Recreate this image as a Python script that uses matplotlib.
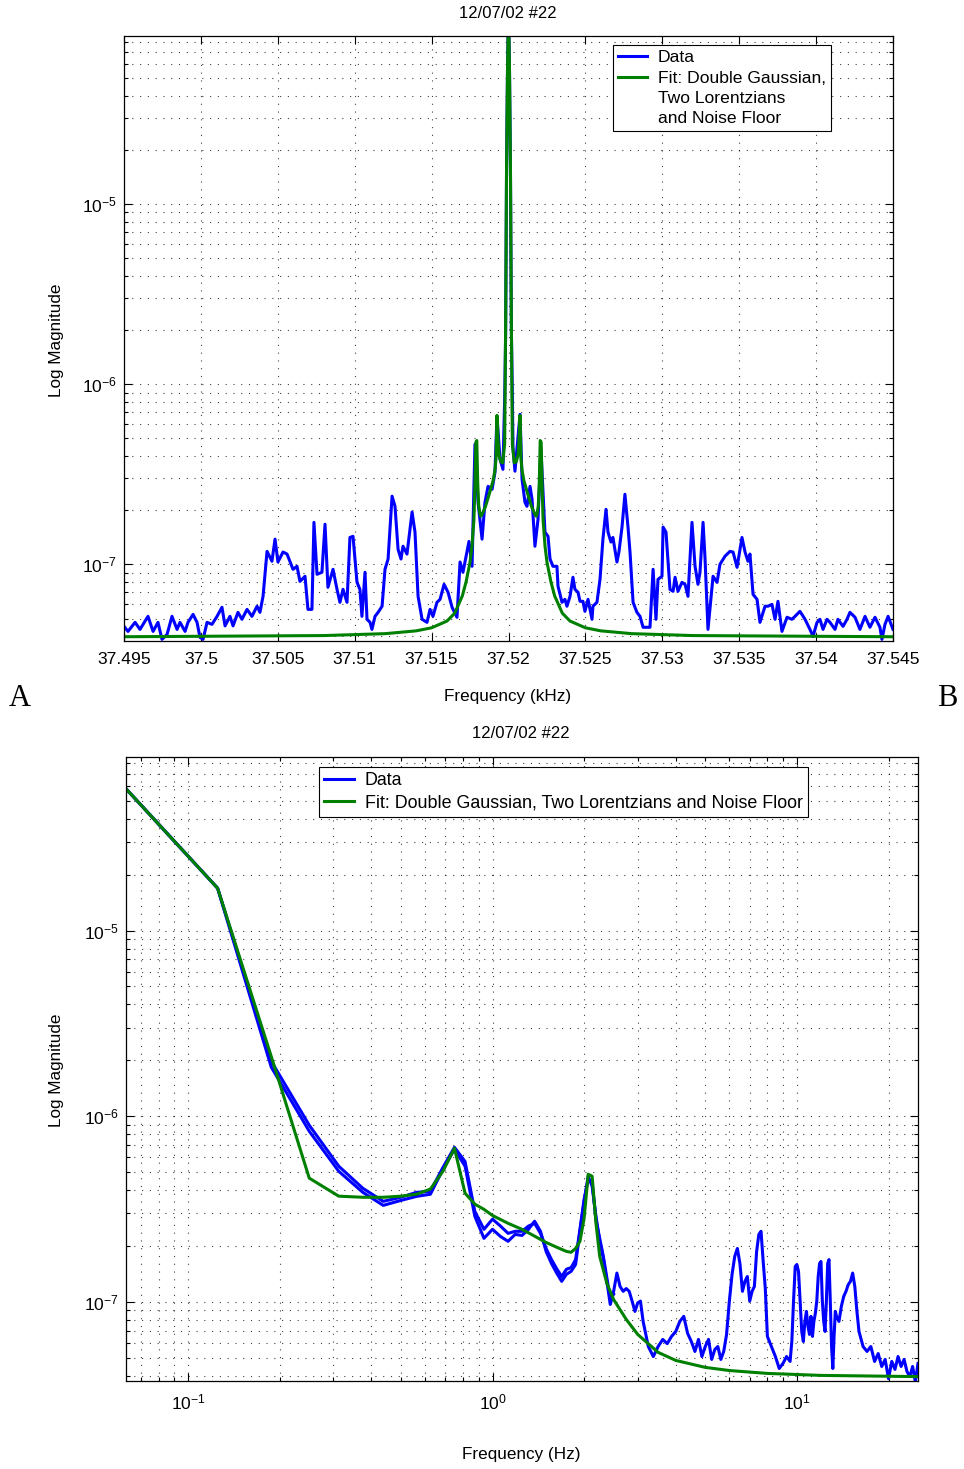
import matplotlib
matplotlib.use('Agg')
import matplotlib.pyplot as plt
import matplotlib.ticker as mticker
from matplotlib.lines import Line2D

plt.rcParams['font.family'] = ['Liberation Sans', 'DejaVu Sans']
plt.rcParams['mathtext.fontset'] = 'custom'
plt.rcParams['mathtext.rm'] = 'Liberation Sans'

title = '12/07/02 #22'
fit_label_top = 'Fit: Double Gaussian,\nTwo Lorentzians\nand Noise Floor'
fit_label_bot = 'Fit: Double Gaussian, Two Lorentzians and Noise Floor'

# ---- top panel: spectrum around the carrier (kHz) ----
top_f = [37.49500, 37.49526, 37.49572, 37.49604, 37.49656, 37.49689, 37.49721, 37.49747,
         37.49780, 37.49812, 37.49845, 37.49864, 37.49897, 37.49916, 37.49949, 37.49975,
         37.49994, 37.50014, 37.50040, 37.50072, 37.50105, 37.50137, 37.50157, 37.50189,
         37.50209, 37.50241, 37.50267, 37.50300, 37.50332, 37.50365, 37.50384, 37.50404,
         37.50430, 37.50462, 37.50482, 37.50501, 37.50534, 37.50560, 37.50599, 37.50625,
         37.50644, 37.50677, 37.50696, 37.50722, 37.50735, 37.50755, 37.50787, 37.50807,
         37.50826, 37.50859, 37.50885, 37.50904, 37.50924, 37.50950, 37.50969, 37.50989,
         37.51015, 37.51034, 37.51047, 37.51067, 37.51080, 37.51100, 37.51112, 37.51132,
         37.51152, 37.51178, 37.51197, 37.51217, 37.51243, 37.51262, 37.51282, 37.51301,
         37.51314, 37.51340, 37.51373, 37.51392, 37.51412, 37.51438, 37.51470, 37.51490,
         37.51509, 37.51535, 37.51555, 37.51581, 37.51607, 37.51633, 37.51665, 37.51685,
         37.51704, 37.51730, 37.51743, 37.51763, 37.51782, 37.51802, 37.51828, 37.51847,
         37.51867, 37.51893, 37.51912, 37.51925, 37.51945, 37.51964, 37.51975, 37.5198125,
         37.519875, 37.5199375, 37.52000, 37.5200625, 37.520125, 37.5201875, 37.52025, 37.52029,
         37.52042, 37.52075, 37.52088, 37.52107, 37.52120, 37.52140, 37.52153, 37.52172,
         37.52192, 37.52211, 37.52237, 37.52257, 37.52270, 37.52289, 37.52315, 37.52322,
         37.52348, 37.52367, 37.52380, 37.52400, 37.52419, 37.52432, 37.52452, 37.52465,
         37.52484, 37.52497, 37.52517, 37.52543, 37.52549, 37.52575, 37.52595, 37.52614,
         37.52634, 37.52647, 37.52666, 37.52679, 37.52705, 37.52718, 37.52738, 37.52757,
         37.52777, 37.52790, 37.52810, 37.52835, 37.52855, 37.52875, 37.52900, 37.52920,
         37.52940, 37.52959, 37.52972, 37.52998, 37.53005, 37.53024, 37.53050, 37.53070,
         37.53083, 37.53102, 37.53128, 37.53148, 37.53167, 37.53193, 37.53213, 37.53232,
         37.53245, 37.53265, 37.53278, 37.53297, 37.53330, 37.53356, 37.53375, 37.53408,
         37.53440, 37.53460, 37.53486, 37.53518, 37.53538, 37.53557, 37.53570, 37.53590,
         37.53616, 37.53635, 37.53668, 37.53687, 37.53713, 37.53733, 37.53752, 37.53778,
         37.53811, 37.53843, 37.53863, 37.53895, 37.53928, 37.53960, 37.53980, 37.54006,
         37.54025, 37.54045, 37.54071, 37.54090, 37.54123, 37.54142, 37.54175, 37.54201,
         37.54220, 37.54253, 37.54285, 37.54318, 37.54350, 37.54383, 37.54415, 37.54428,
         37.54448, 37.54468, 37.54500]
top_data = [4.52e-8, 4.24e-8, 4.76e-8, 4.35e-8, 5.14e-8, 4.24e-8, 4.76e-8, 3.83e-8,
            4.08e-8, 5.14e-8, 4.35e-8, 4.76e-8, 4.24e-8, 4.76e-8, 5.27e-8, 4.76e-8,
            3.93e-8, 3.83e-8, 4.76e-8, 4.64e-8, 5.14e-8, 5.77e-8, 4.55e-8, 5.14e-8,
            4.55e-8, 5.41e-8, 4.95e-8, 5.62e-8, 5.14e-8, 5.85e-8, 5.41e-8, 6.64e-8,
            1.18e-7, 1.04e-7, 1.38e-7, 1.03e-7, 1.17e-7, 1.14e-7, 9.38e-8, 9.75e-8,
            8.04e-8, 8.58e-8, 5.62e-8, 5.62e-8, 1.71e-7, 8.80e-8, 9.03e-8, 1.67e-7,
            7.45e-8, 9.38e-8, 7.26e-8, 6.15e-8, 7.26e-8, 6.15e-8, 1.41e-7, 1.43e-7,
            7.94e-8, 7.26e-8, 5.14e-8, 9.03e-8, 4.95e-8, 4.76e-8, 4.35e-8, 5.14e-8,
            5.41e-8, 5.85e-8, 9.38e-8, 1.07e-7, 2.39e-7, 2.10e-7, 1.21e-7, 1.07e-7,
            1.26e-7, 1.14e-7, 1.95e-7, 1.51e-7, 6.64e-8, 4.95e-8, 4.76e-8, 5.62e-8,
            5.14e-8, 6.15e-8, 6.39e-8, 7.74e-8, 6.99e-8, 5.77e-8, 5.08e-8, 1.03e-7,
            9.03e-8, 1.17e-7, 1.34e-7, 9.75e-8, 4.64e-7, 2.21e-7, 1.38e-7, 2.21e-7,
            2.71e-7, 2.61e-7, 3.24e-7, 6.64e-7, 3.83e-7, 3.37e-7, 8.30e-7, 1.84e-6,
            1.69e-5, 5.80e-5, 1.20e-4, 5.80e-5, 1.69e-5, 1.98e-6, 8.90e-7, 4.50e-7,
            3.29e-7, 6.81e-7, 2.97e-7, 2.21e-7, 2.10e-7, 2.71e-7, 2.30e-7, 1.26e-7,
            1.78e-7, 4.35e-7, 1.51e-7, 1.43e-7, 1.07e-7, 9.75e-8, 9.75e-8, 7.55e-8,
            6.15e-8, 6.39e-8, 5.85e-8, 6.64e-8, 8.47e-8, 7.26e-8, 6.99e-8, 6.23e-8,
            6.23e-8, 5.48e-8, 6.39e-8, 4.95e-8, 5.85e-8, 6.15e-8, 8.25e-8, 1.38e-7,
            2.02e-7, 1.51e-7, 1.33e-7, 1.41e-7, 1.03e-7, 1.17e-7, 1.61e-7, 2.45e-7,
            1.61e-7, 1.17e-7, 6.15e-8, 5.41e-8, 5.14e-8, 4.47e-8, 4.47e-8, 4.47e-8,
            9.38e-8, 4.95e-8, 8.25e-8, 8.58e-8, 1.61e-7, 1.51e-7, 7.26e-8, 7.08e-8,
            8.47e-8, 7.08e-8, 7.94e-8, 7.74e-8, 6.64e-8, 1.71e-7, 9.75e-8, 7.74e-8,
            9.03e-8, 1.71e-7, 1.07e-7, 4.35e-8, 8.58e-8, 7.94e-8, 1.00e-7, 1.11e-7,
            1.18e-7, 1.17e-7, 9.62e-8, 1.41e-7, 1.17e-7, 1.04e-7, 1.14e-7, 6.81e-8,
            6.39e-8, 4.76e-8, 5.85e-8, 5.85e-8, 5.99e-8, 4.95e-8, 6.23e-8, 4.24e-8,
            5.08e-8, 4.95e-8, 5.14e-8, 5.48e-8, 4.95e-8, 4.35e-8, 3.98e-8, 4.76e-8,
            4.95e-8, 4.35e-8, 4.95e-8, 4.76e-8, 4.35e-8, 4.95e-8, 4.52e-8, 4.95e-8,
            5.41e-8, 5.08e-8, 4.35e-8, 5.14e-8, 4.47e-8, 5.08e-8, 4.47e-8, 3.83e-8,
            4.64e-8, 5.14e-8, 4.35e-8]

top_fit_f = [37.495, 37.508, 37.512, 37.514, 37.515, 37.516, 37.5165, 37.517, 37.51725,
             37.5175, 37.517625, 37.51775, 37.5178125, 37.517875, 37.5179375, 37.518,
             37.5180625, 37.518125, 37.5181875, 37.51825, 37.5185, 37.51875, 37.519,
             37.519125, 37.5191875, 37.51925, 37.5193125, 37.519375, 37.5195, 37.519625,
             37.51975, 37.5198125, 37.519875, 37.5199375, 37.52, 37.5200625, 37.520125,
             37.5201875, 37.52025, 37.520375, 37.5205, 37.520625, 37.5206875, 37.52075,
             37.5208125, 37.520875, 37.521, 37.52125, 37.5215, 37.52175, 37.5218125,
             37.521875, 37.5219375, 37.522, 37.5220625, 37.522125, 37.5221875, 37.52225,
             37.522375, 37.5225, 37.52275, 37.523, 37.5235, 37.524, 37.525, 37.526,
             37.528, 37.532, 37.545]
top_fit = [3.96e-8, 4.02e-8, 4.12e-8, 4.27e-8, 4.44e-8, 4.84e-8, 5.35e-8, 6.68e-8, 8.05e-8,
           1.03e-7, 1.26e-7, 1.76e-7, 2.65e-7, 4.75e-7, 4.87e-7, 2.82e-7,
           2.12e-7, 1.94e-7, 1.85e-7, 1.87e-7, 2.09e-7, 2.46e-7, 2.92e-7,
           3.36e-7, 3.85e-7, 6.72e-7, 5.06e-7, 4.05e-7, 3.71e-7, 3.66e-7,
           4.64e-7, 2.10e-6, 1.69e-5, 5.80e-5, 1.20e-4, 5.80e-5, 1.69e-5,
           2.10e-6, 4.64e-7, 3.66e-7, 3.71e-7, 4.05e-7, 5.06e-7, 6.72e-7,
           3.85e-7, 3.36e-7, 2.92e-7, 2.46e-7, 2.09e-7, 1.87e-7, 1.85e-7,
           1.94e-7, 2.12e-7, 2.82e-7, 4.87e-7, 4.75e-7, 2.65e-7, 1.76e-7,
           1.26e-7, 1.03e-7, 8.05e-8, 6.68e-8, 5.35e-8, 4.84e-8, 4.44e-8, 4.27e-8,
           4.12e-8, 4.02e-8, 3.96e-8]

top_ticks = [37.495, 37.5, 37.505, 37.51, 37.515, 37.52, 37.525, 37.53, 37.535, 37.54, 37.545]

# ---- bottom panel: offset from carrier (Hz), log-log ----
bot_f = [0.0625, 0.125, 0.1875, 0.25, 0.3125, 0.375, 0.4375, 0.5, 0.5625, 0.625, 0.6875,
         0.75, 0.8125, 0.875, 0.9375, 1.0, 1.0625, 1.125, 1.1875, 1.25, 1.3125, 1.375,
         1.4375, 1.5, 1.5625, 1.625, 1.6875, 1.75, 1.8125, 1.875, 1.9375, 2.0, 2.0625,
         2.125, 2.1875, 2.25, 2.3125, 2.375, 2.4375, 2.5, 2.5625, 2.625, 2.6875, 2.75,
         2.8125, 2.875, 2.9375, 3.0, 3.0625, 3.125, 3.25, 3.375, 3.5, 3.625, 3.75, 3.875,
         4.0, 4.125, 4.25, 4.375, 4.5, 4.625, 4.75, 4.875, 5.0, 5.125, 5.25, 5.375, 5.5,
         5.625, 5.75, 5.875, 6.0, 6.125, 6.25, 6.375, 6.5, 6.625, 6.75, 6.875, 7.0, 7.125,
         7.25, 7.375, 7.5, 7.625, 7.75, 7.875, 8.0, 8.25, 8.5, 8.75, 9.0, 9.25, 9.5, 9.625,
         9.75, 9.875, 10.0, 10.125, 10.25, 10.375, 10.5, 10.625, 10.75, 10.875, 11.0,
         11.125, 11.25, 11.375, 11.5, 11.625, 11.75, 11.875, 12.0, 12.125, 12.25, 12.375,
         12.5, 12.625, 12.75, 12.875, 13.0, 13.125, 13.25, 13.375, 13.5, 13.75, 14.0,
         14.25, 14.5, 14.75, 15.0, 15.25, 15.5, 15.75, 16.0, 16.5, 17.0, 17.5, 18.0, 18.5,
         19.0, 19.5, 20.0, 20.5, 21.0, 21.5, 22.0, 22.5, 23.0, 23.5, 24.0, 24.5, 25.0]
bot_data = [5.80e-5, 1.69e-5, 1.84e-6, 8.30e-7, 5.05e-7, 3.89e-7, 3.31e-7, 3.52e-7, 3.70e-7,
            3.80e-7, 5.18e-7, 6.64e-7, 5.38e-7, 2.89e-7, 2.20e-7, 2.46e-7, 2.25e-7, 2.12e-7,
            2.31e-7, 2.28e-7, 2.46e-7, 2.72e-7, 2.40e-7, 1.87e-7, 1.61e-7, 1.43e-7, 1.29e-7,
            1.41e-7, 1.46e-7, 1.59e-7, 2.40e-7, 3.48e-7, 4.75e-7, 4.19e-7, 2.89e-7, 2.12e-7,
            1.72e-7, 1.29e-7, 9.69e-8, 1.14e-7, 1.43e-7, 1.21e-7, 1.14e-7, 1.18e-7, 1.14e-7,
            1.01e-7, 8.89e-8, 9.88e-8, 1.01e-7, 7.85e-8, 5.75e-8, 5.08e-8, 5.75e-8, 6.28e-8,
            5.96e-8, 6.52e-8, 6.93e-8, 7.85e-8, 8.36e-8, 6.77e-8, 6.12e-8, 5.41e-8, 6.28e-8,
            5.08e-8, 5.75e-8, 6.28e-8, 4.90e-8, 5.54e-8, 5.75e-8, 4.90e-8, 5.41e-8, 6.68e-8,
            1.01e-7, 1.41e-7, 1.76e-7, 1.94e-7, 1.61e-7, 1.14e-7, 1.29e-7, 1.37e-7, 1.01e-7,
            1.14e-7, 1.21e-7, 1.87e-7, 2.31e-7, 2.40e-7, 1.65e-7, 1.18e-7, 6.52e-8, 5.75e-8,
            5.08e-8, 4.38e-8, 4.66e-8, 5.08e-8, 4.78e-8, 6.12e-8, 1.01e-7, 1.55e-7, 1.59e-7,
            1.46e-7, 1.01e-7, 6.93e-8, 6.12e-8, 7.85e-8, 8.89e-8, 7.38e-8, 6.68e-8, 8.36e-8,
            6.52e-8, 7.85e-8, 8.68e-8, 1.01e-7, 1.37e-7, 1.61e-7, 1.65e-7, 1.01e-7, 7.85e-8,
            6.93e-8, 1.01e-7, 1.61e-7, 1.69e-7, 1.01e-7, 5.75e-8, 4.38e-8, 6.52e-8, 8.89e-8,
            8.36e-8, 7.85e-8, 9.46e-8, 1.07e-7, 1.14e-7, 1.24e-7, 1.29e-7, 1.43e-7, 1.21e-7,
            8.89e-8, 6.93e-8, 5.75e-8, 5.41e-8, 5.75e-8, 4.78e-8, 5.27e-8, 4.49e-8, 4.90e-8,
            3.86e-8, 4.78e-8, 4.33e-8, 5.08e-8, 4.49e-8, 4.90e-8, 4.22e-8, 3.96e-8, 4.49e-8,
            3.72e-8, 4.66e-8]

# second (mirror) side of the carrier, visible below ~2.5 Hz
bot_f2 = [0.0625, 0.125, 0.1875, 0.25, 0.3125, 0.375, 0.4375, 0.5, 0.5625, 0.625, 0.6875,
          0.75, 0.8125, 0.875, 0.9375, 1.0, 1.0625, 1.125, 1.1875, 1.25, 1.3125, 1.375,
          1.4375, 1.5, 1.5625, 1.625, 1.6875, 1.75, 1.8125, 1.875, 1.9375, 2.0, 2.0625,
          2.125, 2.1875, 2.25, 2.3125, 2.375, 2.4375, 2.5]
bot_data2 = [5.80e-5, 1.69e-5, 1.98e-6, 8.94e-7, 5.38e-7, 4.09e-7, 3.48e-7, 3.66e-7, 3.89e-7,
             3.94e-7, 5.30e-7, 6.80e-7, 5.70e-7, 3.07e-7, 2.46e-7, 2.79e-7, 2.56e-7, 2.34e-7,
             2.40e-7, 2.40e-7, 2.56e-7, 2.65e-7, 2.34e-7, 1.94e-7, 1.69e-7, 1.51e-7, 1.37e-7,
             1.50e-7, 1.53e-7, 1.69e-7, 2.46e-7, 3.57e-7, 4.57e-7, 4.40e-7, 2.76e-7, 2.20e-7,
             1.76e-7, 1.35e-7, 1.03e-7, 1.10e-7]

bot_fit_f = [0.0625, 0.125, 0.1875, 0.25, 0.3125, 0.375, 0.4375, 0.5, 0.5625, 0.625, 0.6875,
             0.75, 0.8125, 0.875, 0.9375, 1.0, 1.125, 1.25, 1.375, 1.5, 1.625, 1.75, 1.8125,
             1.875, 1.9375, 2.0, 2.0625, 2.125, 2.1875, 2.25, 2.375, 2.5, 2.75, 3.0, 3.5,
             4.0, 5.0, 6.0, 8.0, 12.0, 25.0]
bot_fit = [5.80e-5, 1.69e-5, 2.10e-6, 4.64e-7, 3.71e-7, 3.66e-7, 3.66e-7, 3.71e-7, 3.80e-7,
           4.05e-7, 5.06e-7, 6.72e-7, 3.85e-7, 3.36e-7, 3.15e-7, 2.92e-7, 2.65e-7, 2.46e-7,
           2.26e-7, 2.09e-7, 1.97e-7, 1.87e-7, 1.85e-7, 1.94e-7, 2.12e-7, 2.82e-7, 4.87e-7,
           4.75e-7, 2.65e-7, 1.76e-7, 1.26e-7, 1.03e-7, 8.05e-8, 6.68e-8, 5.35e-8, 4.84e-8,
           4.44e-8, 4.27e-8, 4.12e-8, 4.02e-8, 3.96e-8]

ylims = (3.75e-8, 8.6e-5)
blue = (0, 0, 1)
green = (0, 0.5, 0)

W, H = 964, 1469
fig = plt.figure(figsize=(W / 100, H / 100), dpi=100)


def px(x, y):
    return x / W, 1 - y / H


def style_axes(ax):
    ax.tick_params(which='both', direction='in', top=True, right=True, labelsize=12.6,
                   width=0.8, color='k')
    ax.tick_params(which='major', length=6)
    ax.tick_params(which='minor', length=3)
    for s in ax.spines.values():
        s.set_linewidth(0.9)
    ax.set_axisbelow(True)
    ax.yaxis.set_minor_formatter(mticker.NullFormatter())


grid_kw = dict(color='k', linestyle=(0, (1, 6)), linewidth=0.8, alpha=0.75)
leg_kw = dict(borderaxespad=0, fancybox=False, framealpha=1, edgecolor='k',
              handlelength=1.65, handletextpad=0.6, borderpad=0.3)

# top
ax1 = fig.add_axes([124 / W, 1 - 641 / H, 769 / W, 605 / H])
h_data, = ax1.plot(top_f, top_data, color=blue, lw=2.2)
h_fit, = ax1.plot(top_fit_f, top_fit, color=green, lw=2.2)
ax1.set_yscale('log')
ax1.set_xlim(37.495, 37.545)
ax1.set_ylim(*ylims)
ax1.set_xticks(top_ticks)
ax1.xaxis.set_major_formatter(mticker.FuncFormatter(lambda v, p: '%g' % round(v, 3)))
style_axes(ax1)
ax1.tick_params(axis='x', pad=8)
ax1.tick_params(axis='y', pad=5)
ax1.grid(True, which='major', axis='x', **grid_kw)
ax1.grid(True, which='both', axis='y', **grid_kw)
# multi-line fit label: handle sits on the first line as in the original
blank = Line2D([], [], color='none')
fit_lines = fit_label_top.split('\n')
leg1 = ax1.legend([h_data, h_fit] + [blank] * (len(fit_lines) - 1), ['Data'] + fit_lines,
                  loc='upper right', bbox_to_anchor=((831 - 124) / 769, 1 - 9 / 605),
                  labelspacing=0.28, fontsize=12.6, **leg_kw)
leg1.get_frame().set_linewidth(0.8)

# bottom
ax2 = fig.add_axes([126 / W, 1 - 1381 / H, 792 / W, 624 / H])
ax2.plot(bot_f, bot_data, color=blue, lw=2.2, label='Data')
ax2.plot(bot_f2, bot_data2, color=blue, lw=2.2)
ax2.plot(bot_fit_f, bot_fit, color=green, lw=2.2, label=fit_label_bot)
ax2.set_xscale('log')
ax2.set_yscale('log')
ax2.set_xlim(0.0625, 25)
ax2.set_ylim(*ylims)
style_axes(ax2)
ax2.xaxis.set_minor_formatter(mticker.NullFormatter())
ax2.tick_params(axis='x', pad=8)
ax2.tick_params(axis='y', pad=5)
ax2.grid(True, which='both', **grid_kw)
leg2 = ax2.legend(loc='upper left', bbox_to_anchor=((319 - 126) / 792, 1 - 10 / 624),
                  labelspacing=0.3, fontsize=12.9, **leg_kw)
leg2.get_frame().set_linewidth(0.8)

# texts
fig.text(*px(508, 14), title, ha='center', va='center', fontsize=12)
fig.text(*px(521, 733), title, ha='center', va='center', fontsize=12)
fig.text(*px(508, 696), 'Frequency (kHz)', ha='center', va='center', fontsize=12.3)
fig.text(*px(521, 1455), 'Frequency (Hz)', ha='center', va='center', fontsize=12.3)
fig.text(*px(57, 340), 'Log Magnitude', ha='center', va='center', rotation=90, fontsize=12.3)
fig.text(*px(57, 1070), 'Log Magnitude', ha='center', va='center', rotation=90, fontsize=12.3)
fig.text(*px(20, 698), 'A', ha='center', va='center', fontsize=22, family='Liberation Serif')
fig.text(*px(947, 698), 'B', ha='center', va='center', fontsize=22, family='Liberation Serif')

fig.savefig('out.png', dpi=100)
